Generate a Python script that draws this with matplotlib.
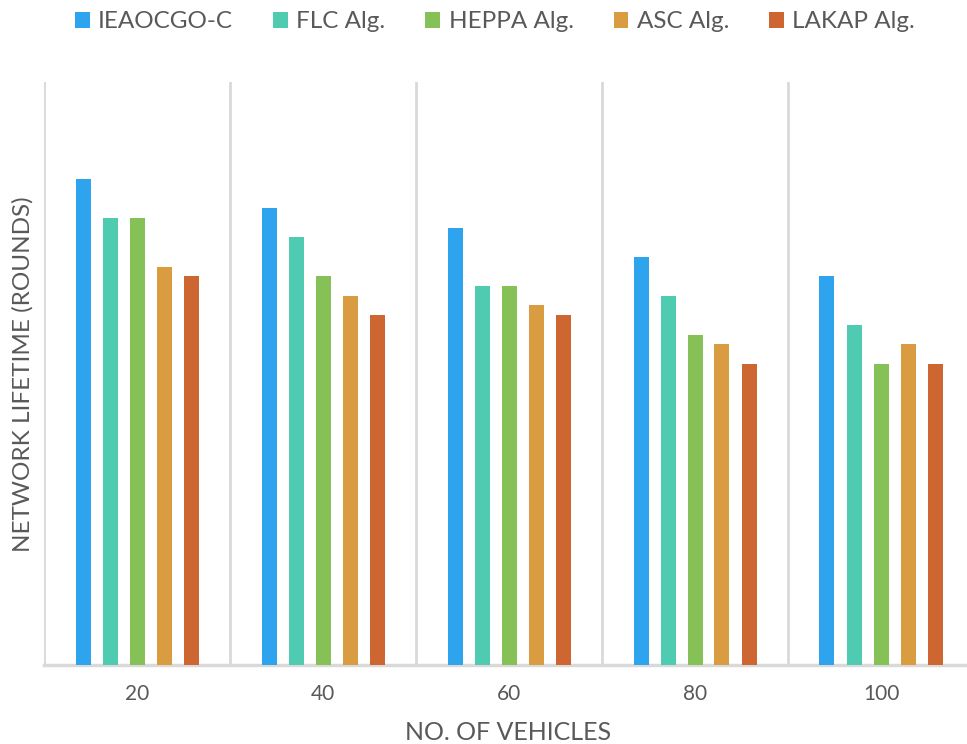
import numpy as np
import matplotlib
matplotlib.use('Agg')
import matplotlib.pyplot as plt

vehicles = ['20', '40', '60', '80', '100']
series = ['IEAOCGO-C', 'FLC Alg.', 'HEPPA Alg.', 'ASC Alg.', 'LAKAP Alg.']
ieaocgo = [25.0, 23.5, 22.5, 21.0, 20.0]
flc = [23.0, 22.0, 19.5, 19.0, 17.5]
heppa = [23.0, 20.0, 19.5, 17.0, 15.5]
asc = [20.5, 19.0, 18.5, 16.5, 16.5]
lakap = [20.0, 18.0, 18.0, 15.5, 15.5]
colors = ['#2EA3EE', '#4ECBB0', '#86C157', '#D99C41', '#CE6632']

textcol = '#595959'
gridcol = '#D9D9D9'
plt.rcParams['font.family'] = ['Lato', 'DejaVu Sans']

fig = plt.figure(figsize=(9.67, 7.44), dpi=100)
ax = fig.add_axes([44 / 967, 79 / 744, 930 / 967, 583 / 744])

x = np.arange(len(vehicles))
step = 27 / 186
width = 15 / 186
for i, vals in enumerate([ieaocgo, flc, heppa, asc, lakap]):
    ax.bar(x + (i - 2) * step, vals, width, color=colors[i], label=series[i], zorder=3)

ax.set_xlim(-0.5, len(vehicles) - 0.5)
ax.set_ylim(0, 30)
for b in np.arange(-0.5, len(vehicles), 1.0):
    ax.axvline(b, color=gridcol, linewidth=2, zorder=1)

for s in ['top', 'right', 'left']:
    ax.spines[s].set_visible(False)
ax.spines['bottom'].set_color(gridcol)
ax.spines['bottom'].set_linewidth(2.5)
ax.set_yticks([])
ax.set_xticks(x)
ax.set_xticklabels(vehicles)
ax.tick_params(axis='x', length=0, pad=14, labelsize=15, labelcolor=textcol)

fig.text(23 / 967, 1 - 374 / 744, 'NETWORK LIFETIME (ROUNDS)', rotation=90,
         ha='center', va='center', fontsize=17.5, color=textcol)
fig.text(508 / 967, 1 - 733 / 744, 'NO. OF VEHICLES', ha='center', va='center',
         fontsize=18, color=textcol)

fig.legend(loc='center', bbox_to_anchor=(495 / 967, 1 - 22 / 744), ncol=5,
           frameon=False, fontsize=17.5, labelcolor=textcol, handlelength=0.6,
           handleheight=0.6, handletextpad=0.35, columnspacing=1.65)

fig.savefig('out.png', dpi=100)
